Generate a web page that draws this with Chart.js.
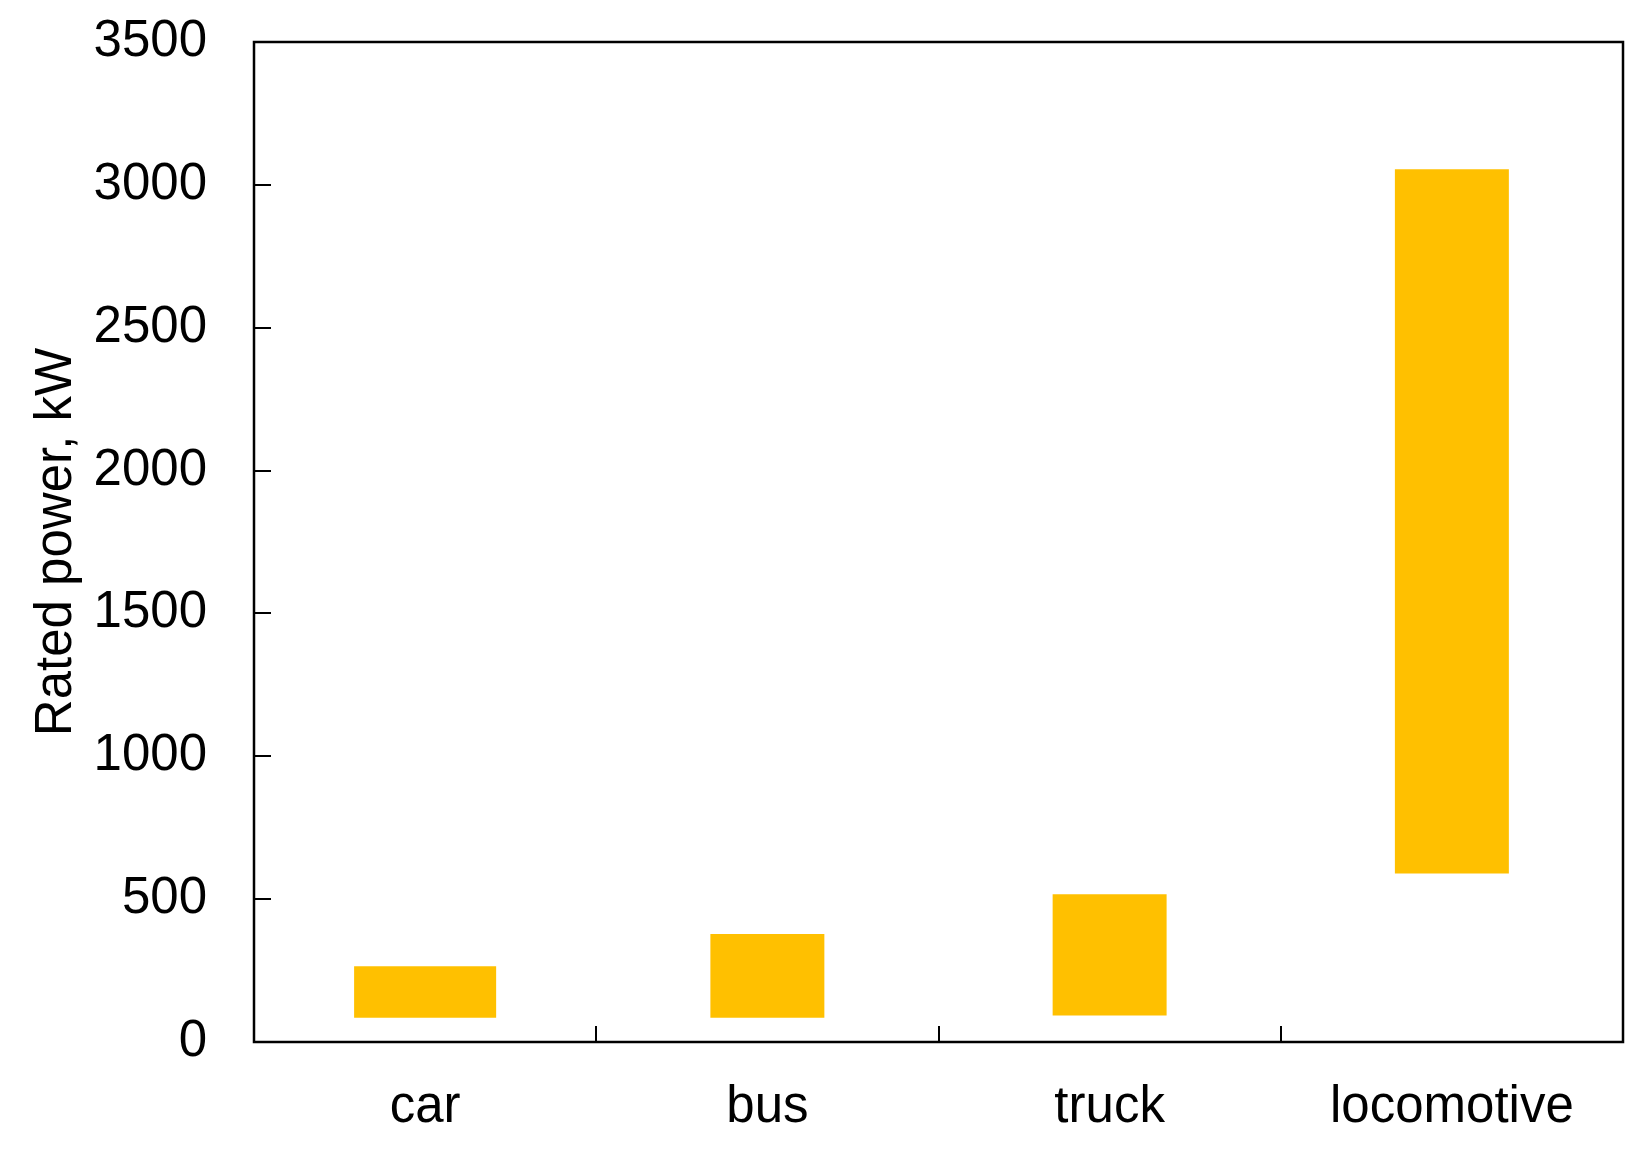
<!DOCTYPE html>
<html>
<head>
<meta charset="utf-8">
<script src="https://cdn.jsdelivr.net/npm/chart.js@4/dist/chart.umd.min.js"></script>
<style>
  html, body { margin: 0; padding: 0; background: #fff; }
  #wrap { width: 1650px; height: 1152px; }
</style>
</head>
<body>
<div id="wrap"><canvas id="my-chart" width="1650" height="1152"></canvas></div>
<script>
var categories = ["car", "bus", "truck", "locomotive"]
var lowValues = [85, 85, 93, 590]
var highValues = [265, 378, 517, 3055]
var yMax = 3500
var yStep = 500

var barColor = "#FFC000"

// car bar is drawn wider than the others in the original
var carData = categories.map(function(c, i){ return i === 0 ? [lowValues[i], highValues[i]] : null })
var otherData = categories.map(function(c, i){ return i === 0 ? null : [lowValues[i], highValues[i]] })

// frame box + inward ticks
var framePlugin = {
    id: "frame",
    afterDraw: function(chart){
        var ctx = chart.ctx
        var a = chart.chartArea
        var xs = chart.scales.x
        var ys = chart.scales.y
        ctx.save()
        ctx.strokeStyle = "#000"
        ctx.lineWidth = 2.5
        ctx.strokeRect(a.left, a.top, a.right - a.left, a.bottom - a.top)
        ctx.lineWidth = 2
        ctx.beginPath()
        for (var v = yStep; v < yMax; v += yStep) {
            var y = Math.round(ys.getPixelForValue(v))
            ctx.moveTo(a.left, y)
            ctx.lineTo(a.left + 17, y)
        }
        for (var i = 1; i < categories.length; i++) {
            var x = Math.round((xs.getPixelForTick(i - 1) + xs.getPixelForTick(i)) / 2)
            ctx.moveTo(x, a.bottom)
            ctx.lineTo(x, a.bottom - 16)
        }
        ctx.stroke()
        ctx.restore()
    }
}

var chart = new Chart(document.getElementById("my-chart").getContext("2d"), {
    type: "bar",
    data: {
        labels: categories,
        datasets: [
            {
                label: "car",
                data: carData,
                backgroundColor: barColor,
                barPercentage: 0.415,
                categoryPercentage: 1,
                grouped: false,
                skipNull: true
            },
            {
                label: "others",
                data: otherData,
                backgroundColor: barColor,
                barPercentage: 0.333,
                categoryPercentage: 1,
                grouped: false,
                skipNull: true
            }
        ]
    },
    options: {
        responsive: false,
        animation: false,
        layout: { padding: { left: 0, top: 42, right: 27, bottom: 0 } },
        plugins: {
            legend: { display: false },
            tooltip: { enabled: false }
        },
        scales: {
            x: {
                grid: { display: false, drawTicks: false },
                border: { display: false },
                ticks: {
                    color: "#000",
                    padding: 35,
                    font: { family: "Liberation Sans, Arial", size: 51 }
                },
                afterFit: function(s){
                    s.height = 110
                    s.paddingLeft = 0
                    s.paddingRight = 0
                }
            },
            y: {
                min: 0,
                max: yMax,
                grid: { display: false, drawTicks: false },
                border: { display: false },
                ticks: {
                    stepSize: yStep,
                    color: "#000",
                    padding: 47,
                    font: { family: "Liberation Sans, Arial", size: 51 },
                    callback: function(v){ return String(v) }
                },
                title: {
                    display: true,
                    text: "Rated power, kW",
                    color: "#000",
                    padding: { top: 26, bottom: 0 },
                    font: { family: "Liberation Sans, Arial", size: 51 }
                },
                afterFit: function(s){
                    s.width = 254
                    s.paddingTop = 0
                    s.paddingBottom = 0
                }
            }
        }
    },
    plugins: [framePlugin]
})
</script>
</body>
</html>
